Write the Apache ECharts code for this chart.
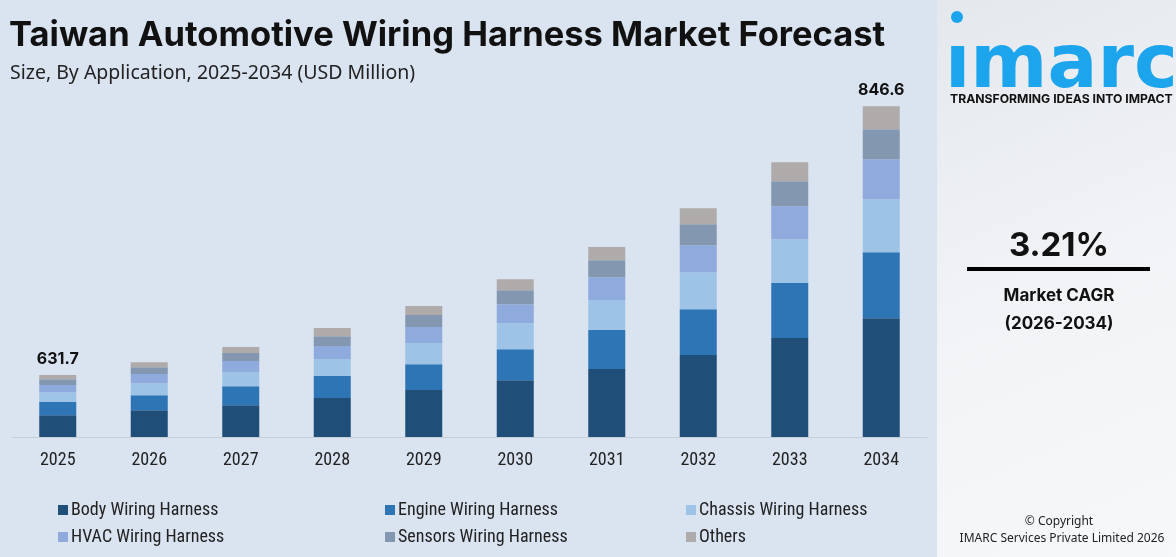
<!DOCTYPE html>
<html>
<head>
<meta charset="utf-8">
<script src="https://cdn.jsdelivr.net/npm/echarts@6/dist/echarts.min.js"></script>
<style>
html,body{margin:0;padding:0;background:#dae3f0;}
#chart{width:1176px;height:557px;}
</style>
</head>
<body>
<div id="chart"></div>
<script>
// Data (USD Million). Axis is truncated at yMin, as in the reference.
const years = ['2025','2026','2027','2028','2029','2030','2031','2032','2033','2034'];
const body    = [599.4, 603.4, 607.4, 613.2, 619.6, 627.4, 636.4, 647.6, 661.2, 677.0];
const engine  = [10.6, 12.0, 15.2, 17.6, 20.6, 24.8, 31.2, 36.6, 44.0, 52.8];
const chassis = [7.8, 9.6, 11.2, 13.6, 17.0, 20.8, 24.0, 29.6, 35.0, 42.4];
const hvac    = [5.8, 7.4, 9.0, 10.4, 12.8, 15.2, 18.2, 21.6, 26.4, 32.0];
const sensors = [4.6, 5.4, 6.4, 7.8, 9.6, 11.2, 13.6, 16.8, 20.0, 24.0];
const others  = [3.5, 4.0, 4.8, 6.6, 7.2, 8.8, 10.6, 12.8, 15.2, 18.4];
const totalLabels = ['631.7', '', '', '', '', '', '', '', '', '846.6'];
const seriesNames = ['Body Wiring Harness','Engine Wiring Harness','Chassis Wiring Harness','HVAC Wiring Harness','Sensors Wiring Harness','Others'];
const yMin = 582, yMax = 850;

const colors = ['#1f4e79','#2e75b6','#9dc3e6','#8faadc','#8497b0','#afabab'];
const dataSets = [body, engine, chassis, hvac, sensors, others];
const narrow = '"Liberation Sans Narrow", "Arial Narrow", "Roboto Condensed", sans-serif';

const series = dataSets.map((d, i) => ({
  name: seriesNames[i],
  type: 'bar',
  stack: 'total',
  barWidth: 37,
  data: d,
  itemStyle: {color: colors[i]},
  label: i === 5 ? {
    show: true, position: 'top', distance: 8,
    formatter: p => totalLabels[p.dataIndex],
    fontFamily: 'Inter, "DejaVu Sans", sans-serif', fontWeight: 'bold', fontSize: 16, color: '#111'
  } : {show: false}
}));

const legendCols = [58, 385, 686];
const legends = legendCols.map((x, c) => ({
  data: [seriesNames[c], seriesNames[c + 3]],
  orient: 'vertical', left: x - 5, top: 496, itemWidth: 10, itemHeight: 10, itemGap: 9,
  icon: 'rect', textStyle: {fontFamily: narrow, fontSize: 18, color: '#222', padding: [0, 0, 0, -2]}
}));

const chart = echarts.init(document.getElementById('chart'));
chart.setOption({
  backgroundColor: '#dae3f0',
  animation: false,
  title: [{
    text: 'Taiwan Automotive Wiring Harness Market Forecast',
    left: 4, top: 13,
    textStyle: {fontFamily: 'Inter, "Noto Sans", sans-serif', fontWeight: 'bold', fontSize: 34.5, color: '#111'}
  }, {
    text: 'Size, By Application, 2025-2034 (USD Million)',
    left: 5, top: 58,
    textStyle: {fontFamily: '"Noto Sans", Inter, sans-serif', fontWeight: 'normal', fontSize: 19.5, color: '#222'}
  }],
  grid: {left: 12, width: 915, top: 102, bottom: 120},
  xAxis: {
    type: 'category', data: years,
    axisLine: {lineStyle: {color: '#c8ced6', width: 1}},
    axisTick: {show: false},
    axisLabel: {fontFamily: narrow, fontSize: 18, color: '#222', margin: 14}
  },
  yAxis: {type: 'value', min: yMin, max: yMax, show: false, splitLine: {show: false}},
  legend: legends,
  series: series,
  graphic: [
    {type: 'rect', left: 937, top: 0, shape: {width: 239, height: 557},
      style: {fill: new echarts.graphic.LinearGradient(0, 0, 1, 1, [
        {offset: 0, color: '#e4e8ed'}, {offset: 0.5, color: '#f1f3f6'}, {offset: 1, color: '#f7f8fa'}])}},
    {type: 'circle', shape: {cx: 957, cy: 17, r: 6}, style: {fill: '#1ca5ec'}},
    {type: 'text', left: 945, top: 31, style: {text: 'ımarc', fontFamily: '"DejaVu Sans", sans-serif', fontWeight: 'bold', fontSize: 74, fill: '#1ca5ec'}},
    {type: 'text', left: 950, top: 93, style: {text: 'TRANSFORMING IDEAS INTO IMPACT', fontFamily: 'Inter, "Noto Sans", sans-serif', fontWeight: 'bold', fontSize: 12.2, fill: '#111'}},
    {type: 'text', x: 1059, y: 246, style: {text: '3.21%', align: 'center', verticalAlign: 'middle', fontFamily: 'Inter, "Noto Sans", sans-serif', fontWeight: 'bold', fontSize: 33, fill: '#111'}},
    {type: 'rect', shape: {x: 967, y: 267, width: 183, height: 4}, style: {fill: '#000'}},
    {type: 'text', x: 1059, y: 296, style: {text: 'Market CAGR', align: 'center', verticalAlign: 'middle', fontFamily: 'Inter, "Noto Sans", sans-serif', fontWeight: 'bold', fontSize: 17, fill: '#111'}},
    {type: 'text', x: 1059, y: 324, style: {text: '(2026-2034)', align: 'center', verticalAlign: 'middle', fontFamily: 'Inter, "Noto Sans", sans-serif', fontWeight: 'bold', fontSize: 17, fill: '#111'}},
    {type: 'text', x: 1059, y: 522, style: {text: '© Copyright', align: 'center', verticalAlign: 'middle', fontFamily: '"Noto Sans", sans-serif', fontSize: 12, fill: '#222'}},
    {type: 'text', x: 1062, y: 539, style: {text: 'IMARC Services Private Limited 2026', align: 'center', verticalAlign: 'middle', fontFamily: '"Noto Sans", sans-serif', fontSize: 12, fill: '#222'}}
  ]
});
</script>
</body>
</html>
